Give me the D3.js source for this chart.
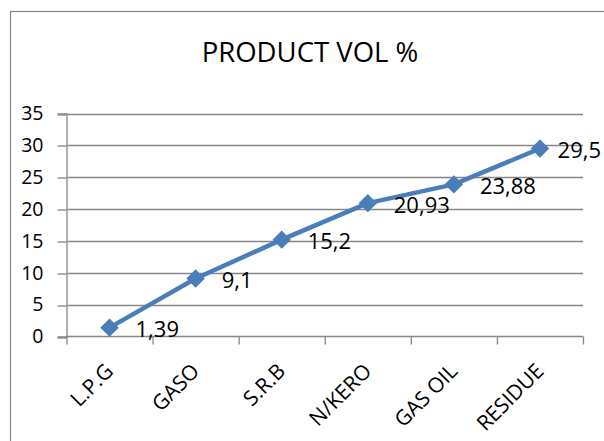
<!DOCTYPE html>
<html>
<head>
<meta charset="utf-8">
<script src="https://cdn.jsdelivr.net/npm/d3@7"></script>
<style>
  html, body { margin: 0; padding: 0; background: #fff; }
  svg { display: block; }
</style>
</head>
<body>
<svg id="chart" width="604" height="441"></svg>
<script>
// Product volume share by cut
const categories = ["L.P.G", "GASO", "S.R.B", "N/KERO", "GAS OIL", "RESIDUE"];
const volumes = [1.39, 9.1, 15.2, 20.93, 23.88, 29.5];
const valueLabels = ["1,39", "9,1", "15,2", "20,93", "23,88", "29,5"];
const yTicks = [0, 5, 10, 15, 20, 25, 30, 35];
const chartTitle = "PRODUCT VOL %";

const plot = { left: 66.5, right: 583, top: 113.5, bottom: 336.5 };
const gray = "#868686";
const blue = "#4a7ebb";
const font = "'Open Sans', sans-serif";

const svg = d3.select("#chart");

// outer chart frame (runs past the right and bottom edges)
svg.append("rect")
  .attr("x", 10.5).attr("y", 11.5)
  .attr("width", 700).attr("height", 600)
  .attr("fill", "#fff").attr("stroke", gray).attr("stroke-width", 1.2);

svg.append("text")
  .attr("x", 310).attr("y", 61.5)
  .attr("text-anchor", "middle")
  .attr("font-family", font)
  .attr("font-size", 27.5)
  .attr("fill", "#000")
  .text(chartTitle);

const x = d3.scaleBand().domain(categories).range([plot.left, plot.right]);
const y = d3.scaleLinear().domain([0, 35]).range([plot.bottom, plot.top]);
const cx = d => x(d) + x.bandwidth() / 2;

// horizontal gridlines
svg.append("g").selectAll("line").data(yTicks.slice(1)).join("line")
  .attr("x1", plot.left).attr("x2", plot.right)
  .attr("y1", d => Math.round(y(d)) + 0.5).attr("y2", d => Math.round(y(d)) + 0.5)
  .attr("stroke", gray).attr("stroke-width", 1.3);

// y axis
const yAxis = svg.append("g")
  .attr("transform", `translate(${plot.left},0)`)
  .call(d3.axisLeft(y).tickValues(yTicks).tickSize(9).tickPadding(14).tickFormat(d3.format("d")));
yAxis.select(".domain").attr("stroke", gray).attr("stroke-width", 1.3);
yAxis.selectAll(".tick line").attr("stroke", gray).attr("stroke-width", 1.3)
  .attr("transform", d => `translate(0,${Math.round(y(d)) + 0.5 - y(d)})`);
yAxis.selectAll(".tick text")
  .attr("font-family", font).attr("font-size", 19.5).attr("fill", "#000");

// x axis: tick marks on the band boundaries, category names rotated
const xEdge = d3.scaleLinear().domain([0, categories.length]).range([plot.left, plot.right]);
const xAxis = svg.append("g")
  .attr("transform", `translate(0,${plot.bottom})`)
  .call(d3.axisBottom(xEdge).tickValues(d3.range(categories.length + 1)).tickSize(8).tickFormat(""));
xAxis.select(".domain").remove();
xAxis.selectAll(".tick line").attr("stroke", gray).attr("stroke-width", 1.3);
svg.append("line")
  .attr("x1", plot.left).attr("x2", plot.right)
  .attr("y1", plot.bottom).attr("y2", plot.bottom)
  .attr("stroke", gray).attr("stroke-width", 1.3);

svg.append("g").selectAll("text").data(categories).join("text")
  .attr("transform", d => `translate(${cx(d) + 5},${plot.bottom + 36}) rotate(-45)`)
  .attr("text-anchor", "end")
  .attr("font-family", font).attr("font-size", 21)
  .attr("fill", "#000")
  .text(d => d);

// series line and diamond markers
const pts = categories.map((c, i) => ({ c, v: volumes[i], label: valueLabels[i] }));
const line = d3.line().x(d => cx(d.c)).y(d => y(d.v));
svg.append("path").datum(pts)
  .attr("d", line)
  .attr("fill", "none").attr("stroke", blue)
  .attr("stroke-width", 4.5).attr("stroke-linejoin", "round");

const diamond = d3.symbol().type(d3.symbolSquare).size(170);
svg.append("g").selectAll("path").data(pts).join("path")
  .attr("d", diamond)
  .attr("transform", d => `translate(${cx(d.c)},${y(d.v)}) rotate(45)`)
  .attr("fill", blue);

// value labels to the right of each point, kept inside the frame
svg.append("g").selectAll("text").data(pts).join("text")
  .attr("font-family", font).attr("font-size", 22).attr("fill", "#000")
  .attr("y", d => y(d.v) + 9.5)
  .text(d => d.label)
  .attr("x", function (d) {
    const px = cx(d.c) + 26;
    const w = this.getComputedTextLength();
    return Math.min(px, 601 - w);
  });
</script>
</body>
</html>
